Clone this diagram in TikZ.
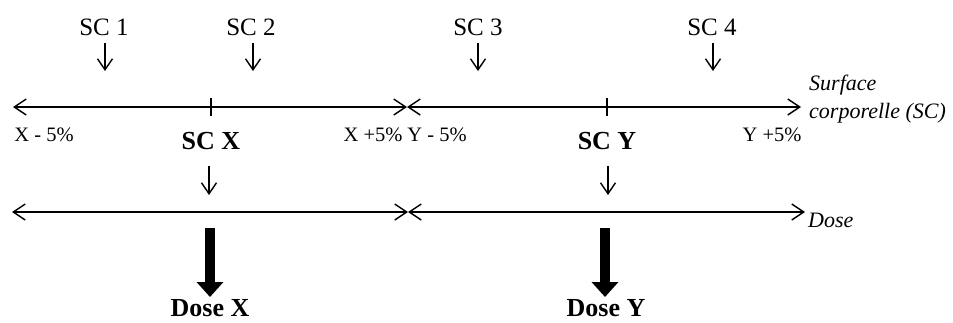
\documentclass[tikz,border=0pt]{standalone}
\usepackage{fontspec}
\setmainfont{Liberation Serif}
\usetikzlibrary{arrows.meta}
\begin{document}
\begin{tikzpicture}[x=1pt,y=-1pt,
  barb/.tip={Straight Barb[length=12pt,width=16pt]},
  axisline/.style={line width=1.4pt,{barb}-{barb}},
  smallarrow/.style={line width=1.4pt,-{Straight Barb[length=11pt,width=15pt]}},
  tickline/.style={line width=1.4pt},
  bigarrow/.style={line width=10pt,-{Triangle[length=15pt,width=26pt]}},
  sclab/.style={inner sep=0pt,font=\fontsize{25}{28}\selectfont},
  pctlab/.style={inner sep=0pt,font=\fontsize{20.5}{24}\selectfont},
  boldlab/.style={inner sep=0pt,font=\fontsize{26}{30}\selectfont\bfseries},
  axlab/.style={inner sep=0pt,anchor=west,align=left,font=\fontsize{22}{28}\selectfont\itshape}
]
\useasboundingbox (0,0) rectangle (953,322);

% top labels
\node[sclab] (sc1) at (104,27) {SC 1};
\node[sclab] (sc2) at (251,27) {SC 2};
\node[sclab] (sc3) at (478,27) {SC 3};
\node[sclab] (sc4) at (712,27) {SC 4};
\foreach \n/\x in {1/105,2/253,3/478,4/713}{
  \coordinate (a\n s) at (\x,43);
  \coordinate (a\n e) at (\x,71);
  \draw[smallarrow] (a\n s) -- (a\n e);
}

% surface axis
\coordinate (s0) at (13,107);
\coordinate (sm) at (407,107);
\coordinate (s1) at (801,107);
\draw[axisline] (s0) -- (sm);
\draw[axisline] (sm) -- (s1);
\coordinate (tx1) at (211,98);
\coordinate (tx2) at (211,116);
\coordinate (ty1) at (607,98);
\coordinate (ty2) at (607,116);
\draw[tickline] (tx1) -- (tx2);
\draw[tickline] (ty1) -- (ty2);
\node[axlab] (surf) at (809,99) {Surface\\corporelle (SC)};

% percent labels
\node[pctlab] (xm) at (44,135) {X - 5\%};
\node[pctlab] (xp) at (373,135) {X +5\%};
\node[pctlab] (ym) at (437,135) {Y - 5\%};
\node[pctlab] (yp) at (772,135) {Y +5\%};

% SC X / SC Y
\node[boldlab] (scx) at (211,141) {SC X};
\node[boldlab] (scy) at (607,141) {SC Y};
\coordinate (bx1) at (209,166);
\coordinate (bx2) at (209,195);
\coordinate (by1) at (608,166);
\coordinate (by2) at (608,195);
\draw[smallarrow] (bx1) -- (bx2);
\draw[smallarrow] (by1) -- (by2);

% dose axis
\coordinate (d0) at (12,212);
\coordinate (dm) at (408,212);
\coordinate (d1) at (805,212);
\draw[axisline] (d0) -- (dm);
\draw[axisline] (dm) -- (d1);
\node[axlab] (dose) at (808,220) {Dose};

% thick arrows
\coordinate (kx1) at (210,228);
\coordinate (kx2) at (210,297);
\coordinate (ky1) at (605,228);
\coordinate (ky2) at (605,297);
\draw[bigarrow] (kx1) -- (kx2);
\draw[bigarrow] (ky1) -- (ky2);
\node[boldlab] (dosex) at (210,308) {Dose X};
\node[boldlab] (dosey) at (606,308) {Dose Y};
\end{tikzpicture}
\end{document}
